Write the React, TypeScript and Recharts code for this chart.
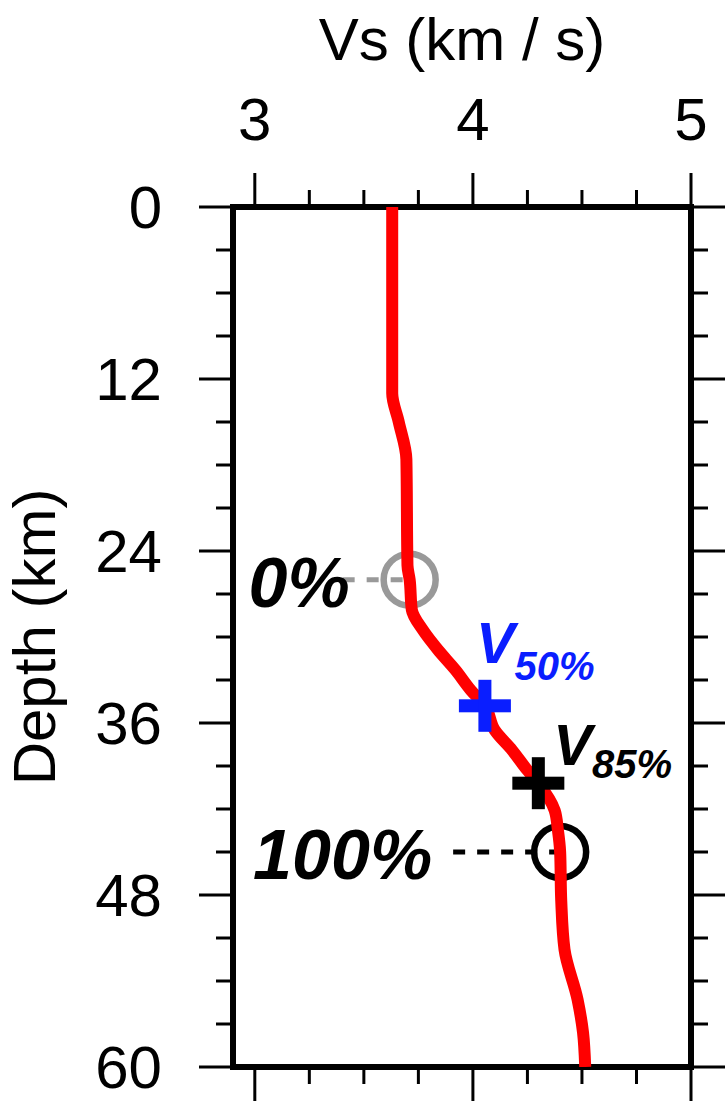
import { ScatterChart, Scatter, XAxis, YAxis, Label } from "recharts";

// shear-wave velocity profile, depth in km and Vs in km/s
const depthKm = [0, 13, 15, 17.6, 25, 26, 28.1, 29.5, 30.9, 32.3, 33.7, 34.8, 36.5, 37.9, 39.3, 40.2, 42.1, 43.5, 45, 48.4, 51.8, 55.3, 57.6, 60];
const vsKmS = [3.63, 3.63, 3.66, 3.695, 3.70, 3.71, 3.72, 3.77, 3.84, 3.92, 3.99, 4.055, 4.10, 4.18, 4.25, 4.30, 4.375, 4.39, 4.40, 4.405, 4.42, 4.48, 4.505, 4.515];

// reference levels picked on the profile
const levelNames = ["0%", "100%"];
const levelVs = [3.71, 4.40];
const levelDepth = [26.0, 45.0];

const pickNames = ["50%", "85%"];
const pickVs = [4.055, 4.30];
const pickDepth = [34.8, 40.2];

// axis ticks
const vsTicks = [3, 3.25, 3.5, 3.75, 4, 4.25, 4.5, 4.75, 5];
const vsLabels = [3, 4, 5];
const depthTicks = [0, 3, 6, 9, 12, 15, 18, 21, 24, 27, 30, 33, 36, 39, 42, 45, 48, 51, 54, 57, 60];
const depthLabels = [0, 12, 24, 36, 48, 60];

const profile = depthKm.map((d, i) => ({ depth: d, vs: vsKmS[i] }));
const levels = levelNames.map((n, i) => ({ name: n, vs: levelVs[i], depth: levelDepth[i] }));
const picks = pickNames.map((n, i) => ({ name: n, vs: pickVs[i], depth: pickDepth[i] }));

const FONT = "'Liberation Sans', Arial, Helvetica, sans-serif";
const MAJOR = 34;
const MINOR = 17;

const TopTick = (props: any) => {
  const { x, y, payload } = props;
  const major = vsLabels.includes(payload.value);
  return (
    <g>
      <line x1={x} x2={x} y1={y} y2={y - (major ? MAJOR : MINOR)} stroke="#000" strokeWidth={3} />
      {major && (
        <text x={x} y={y - 67} textAnchor="middle" fontSize={60} fontFamily={FONT} fill="#000">
          {payload.value}
        </text>
      )}
    </g>
  );
};

const BottomTick = (props: any) => {
  const { x, y, payload } = props;
  const major = vsLabels.includes(payload.value);
  return <line x1={x} x2={x} y1={y} y2={y + (major ? MAJOR : MINOR)} stroke="#000" strokeWidth={3} />;
};

const LeftTick = (props: any) => {
  const { x, y, payload } = props;
  const major = depthLabels.includes(payload.value);
  return (
    <g>
      <line x1={x} x2={x - (major ? MAJOR : MINOR)} y1={y} y2={y} stroke="#000" strokeWidth={3} />
      {major && (
        <text x={x - 71} y={y + 21} textAnchor="end" fontSize={60} fontFamily={FONT} fill="#000">
          {payload.value}
        </text>
      )}
    </g>
  );
};

const RightTick = (props: any) => {
  const { x, y, payload } = props;
  const major = depthLabels.includes(payload.value);
  return <line x1={x} x2={x + (major ? MAJOR : MINOR)} y1={y} y2={y} stroke="#000" strokeWidth={3} />;
};

// open circle with a dashed leader back to its percentage label
const Ring = ({ cx, cy, payload, color, gap, lead }: any) => (
  <g>
    <line x1={cx - lead} x2={cx} y1={cy} y2={cy} stroke={color} strokeWidth={5} strokeDasharray="12 12" />
    <circle cx={cx} cy={cy} r={26} fill="none" stroke={color} strokeWidth={6.5} />
    <text
      x={cx - gap}
      y={cy + 27}
      textAnchor="end"
      fontSize={70}
      fontWeight="bold"
      fontStyle="italic"
      fontFamily={FONT}
      fill="#000"
    >
      {payload.name}
    </text>
  </g>
);

// plus sign with a V-subscript label
const Cross = ({ cx, cy, payload, color, dx, dy, sub }: any) => (
  <g>
    <rect x={cx - 26} y={cy - 6.5} width={52} height={13} fill={color} />
    <rect x={cx - 6.5} y={cy - 26} width={13} height={52} fill={color} />
    <text x={cx + dx} y={cy + dy} fontSize={58} fontWeight="bold" fontStyle="italic" fontFamily={FONT} fill={color}>
      V
      <tspan fontSize={40} dy={sub}>
        {payload.name}
      </tspan>
    </text>
  </g>
);

const frame = { stroke: "#000", strokeWidth: 6, strokeLinecap: "square" as const };

export default function App() {
  return (
    <div style={{ position: "absolute", left: 0, top: 0, width: 728, height: 1103, background: "#fff", fontFamily: FONT }}>
      <ScatterChart width={728} height={1103} margin={{ top: 0, right: 0, bottom: 0, left: 0 }}>
        <XAxis
          xAxisId="top"
          orientation="top"
          type="number"
          dataKey="vs"
          domain={[2.9, 5]}
          allowDataOverflow
          ticks={vsTicks}
          height={207}
          tickSize={0}
          tickMargin={0}
          tickLine={false}
          axisLine={frame}
          tick={<TopTick />}
          interval={0}
        >
          <Label
            content={() => (
              <text x={462} y={60} textAnchor="middle" fontSize={60} fontFamily={FONT} fill="#000">
                Vs (km / s)
              </text>
            )}
          />
        </XAxis>
        <XAxis
          xAxisId="bottom"
          orientation="bottom"
          type="number"
          dataKey="vs"
          domain={[2.9, 5]}
          allowDataOverflow
          ticks={vsTicks}
          height={36}
          tickSize={0}
          tickMargin={0}
          tickLine={false}
          axisLine={frame}
          tick={<BottomTick />}
          interval={0}
        />
        <YAxis
          yAxisId="left"
          orientation="left"
          type="number"
          dataKey="depth"
          domain={[0, 60]}
          reversed
          allowDataOverflow
          ticks={depthTicks}
          width={233}
          tickSize={0}
          tickMargin={0}
          tickLine={false}
          axisLine={frame}
          tick={<LeftTick />}
          interval={0}
        >
          <Label
            content={() => (
              <text
                x={55}
                y={637}
                transform="rotate(-90, 55, 637)"
                textAnchor="middle"
                fontSize={60}
                fontFamily={FONT}
                fill="#000"
              >
                Depth (km)
              </text>
            )}
          />
        </YAxis>
        <YAxis
          yAxisId="right"
          orientation="right"
          type="number"
          dataKey="depth"
          domain={[0, 60]}
          reversed
          allowDataOverflow
          ticks={depthTicks}
          width={37}
          tickSize={0}
          tickMargin={0}
          tickLine={false}
          axisLine={frame}
          tick={<RightTick />}
          interval={0}
        />

        {/* keeps the bottom and right axes bound to the same data */}
        <Scatter
          data={profile}
          xAxisId="bottom"
          yAxisId="right"
          shape={() => <g />}
          isAnimationActive={false}
        />

        <Scatter
          data={levels.slice(0, 1)}
          xAxisId="top"
          yAxisId="left"
          shape={(p: any) => <Ring {...p} color="#999999" gap={60} lead={67} />}
          isAnimationActive={false}
        />
        <Scatter
          data={levels.slice(1)}
          xAxisId="top"
          yAxisId="left"
          shape={(p: any) => <Ring {...p} color="#000000" gap={128} lead={107} />}
          isAnimationActive={false}
        />

        <Scatter
          data={profile}
          xAxisId="top"
          yAxisId="left"
          fill="#ff0000"
          line={{ stroke: "#ff0000", strokeWidth: 12 }}
          lineType="joint"
          lineJointType="monotoneY"
          shape={() => <g />}
          isAnimationActive={false}
        />

        <Scatter
          data={picks.slice(0, 1)}
          xAxisId="top"
          yAxisId="left"
          shape={(p: any) => <Cross {...p} color="#0a1eff" dx={-9} dy={-43} sub={17} />}
          isAnimationActive={false}
        />
        <Scatter
          data={picks.slice(1)}
          xAxisId="top"
          yAxisId="left"
          shape={(p: any) => <Cross {...p} color="#000000" dx={15} dy={-18} sub={13} />}
          isAnimationActive={false}
        />
      </ScatterChart>
    </div>
  );
}
